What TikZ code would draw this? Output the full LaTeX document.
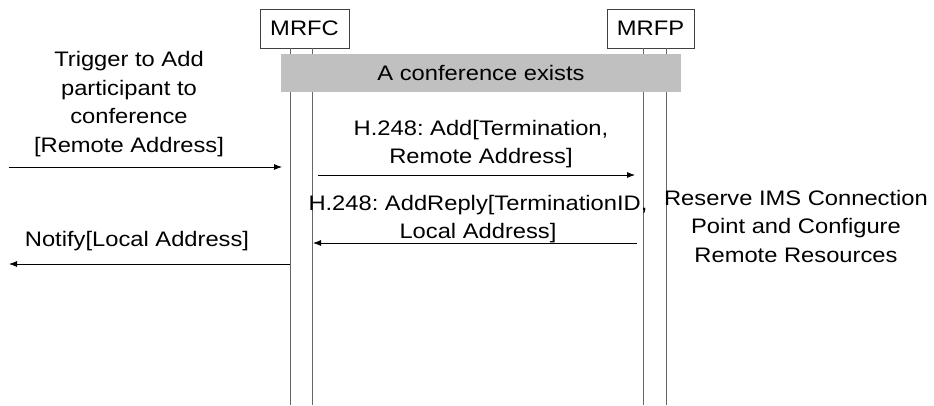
\documentclass[tikz,border=0pt]{standalone}
\usepackage{fontspec}
\setmainfont{Liberation Sans}[FakeStretch=1.13]
\frenchspacing
\usetikzlibrary{arrows.meta}
\tikzset{msg/.style={-{Latex[length=8pt,width=6pt]}, line width=0.8pt}}
\tikzset{entity/.style={draw=black!75, line width=0.8pt, minimum height=39pt, inner sep=0pt, font=\fontsize{21}{28}\selectfont}}
\tikzset{lifeline/.style={draw=black!60, line width=1pt}}
\tikzset{msgtext/.style={align=center, inner sep=0pt, font=\fontsize{21}{28.5}\selectfont}}
\definecolor{bargray}{RGB}{192,192,192}

\begin{document}
\begin{tikzpicture}[x=1pt, y=-1pt]
      \useasboundingbox (0,0) rectangle (934,405);

      \node[entity, minimum width=89pt] (MRFC) at (304.5, 28.5) {MRFC};
      \node[entity, minimum width=87pt] (MRFP) at (650.5, 28.5) {MRFP};

      \coordinate (c1) at (290, 48);  \coordinate (c1e) at (290, 405);
      \coordinate (c2) at (312, 48);  \coordinate (c2e) at (312, 405);
      \coordinate (p1) at (643, 48);  \coordinate (p1e) at (643, 405);
      \coordinate (p2) at (666, 48);  \coordinate (p2e) at (666, 405);
      \draw[lifeline] (c1) -- (c1e);
      \draw[lifeline] (c2) -- (c2e);
      \draw[lifeline] (p1) -- (p1e);
      \draw[lifeline] (p2) -- (p2e);

      \node[fill=bargray, minimum width=400pt, minimum height=38pt, inner sep=0pt,
            font=\fontsize{21}{28}\selectfont] (exists) at (481, 73) {A conference exists};

      \coordinate (trig) at (9, 167);    \coordinate (trigend) at (282, 167);
      \coordinate (add) at (318, 175);   \coordinate (addend) at (635, 175);
      \coordinate (rep) at (637, 243);   \coordinate (repend) at (313, 243);
      \coordinate (notify) at (290, 264); \coordinate (notifyend) at (9, 264);

      \draw[msg] (trig) -- (trigend);
      \draw[msg] (add) -- (addend);
      \draw[msg] (rep) -- (repend);
      \draw[msg] (notify) -- (notifyend);

      \node[msgtext] (t1) at (129, 104) {Trigger to Add\\participant to\\conference\\{}[Remote Address]};
      \node[msgtext] (t2) at (481, 144) {H.248: Add[Termination,\\Remote Address]};
      \node[msgtext] (t3) at (478, 219) {H.248: AddReply[TerminationID,\\Local Address]};
      \node[msgtext] (t4) at (796, 226) {Reserve IMS Connection\\Point and Configure\\Remote Resources};
      \node[msgtext] (t5) at (137, 241) {Notify[Local Address]};
\end{tikzpicture}
\end{document}
